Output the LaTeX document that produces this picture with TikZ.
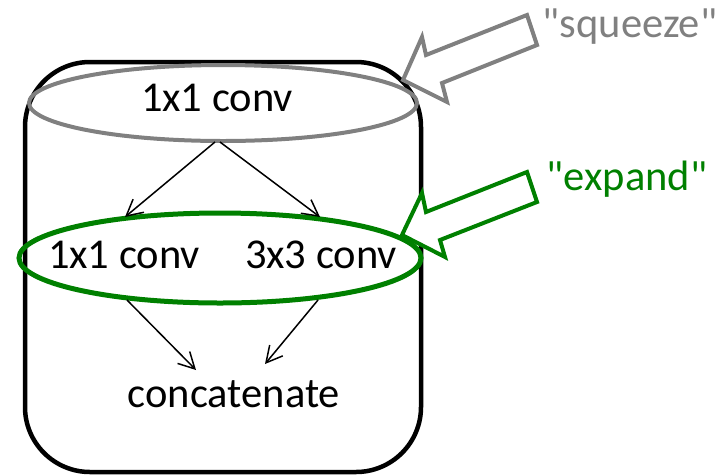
\documentclass[tikz,border=0pt]{standalone}
\usepackage{fontspec}
\setmainfont{Carlito}
% plain family without TeX ligature mapping, so " stays a straight quote
\newfontfamily\labelfont{Carlito}
\usetikzlibrary{arrows.meta,shapes.geometric}
\definecolor{squeezegray}{RGB}{128,128,128}
\definecolor{expandgreen}{RGB}{0,128,0}
\tikzset{
  label text/.style={font=\labelfont\fontsize{42.5}{50}\selectfont, inner sep=0pt, anchor=base},
  flow/.style={line width=1.5pt, -{Straight Barb[length=16pt,width=17pt,line width=1.5pt]}},
  block arrow/.style={line width=4pt, line join=miter, fill=white},
}
\begin{document}
\begin{tikzpicture}[x=1pt,y=-1pt]
  \useasboundingbox (0,0) rectangle (720,475);

  % fire module outline
  \draw[line width=4.5pt, rounded corners=65pt] (25,62) rectangle (421,472);

  % squeeze layer
  \node[draw=squeezegray, line width=4pt, ellipse, minimum width=388pt, minimum height=76pt, inner sep=0pt] (sq) at (223,103) {};
  \node[label text] (sqconv) at (217,111) {1x1 conv};

  % expand layer
  \node[draw=expandgreen, line width=5pt, ellipse, minimum width=402pt, minimum height=90pt, inner sep=0pt] (ex) at (220,258) {};
  \node[label text] (ex1) at (124,268) {1x1 conv};
  \node[label text] (ex3) at (321,268) {3x3 conv};

  \node[label text] (cat) at (234,407) {concatenate};

  % connection points on the ellipses
  \coordinate (sqL) at (215,142);
  \coordinate (sqR) at (220,142);
  \coordinate (exTL) at (125,217);
  \coordinate (exTR) at (320,217);
  \coordinate (exBL) at (127,300);
  \coordinate (exBR) at (318,300);
  \coordinate (catL) at (196,370);
  \coordinate (catR) at (265,364);

  \draw[flow] (sqL) -- (exTL);
  \draw[flow] (sqR) -- (exTR);
  \draw[flow] (exBL) -- (catL);
  \draw[flow] (exBR) -- (catR);

  % callout arrows
  \draw[block arrow, draw=squeezegray]
    (403,80) -- (422,37) -- (426,55) -- (527,15) -- (537,45) -- (442,83) -- (447,102) -- cycle;
  \draw[block arrow, draw=expandgreen]
    (402,235) -- (422,193) -- (426,212) -- (527,172) -- (537,202) -- (440,240) -- (445,257) -- cycle;

  \node[label text, text=squeezegray] (sqlabel) at (630,37) {"squeeze"};
  \node[label text, text=expandgreen] (exlabel) at (627,190) {"expand"};
\end{tikzpicture}
\end{document}
